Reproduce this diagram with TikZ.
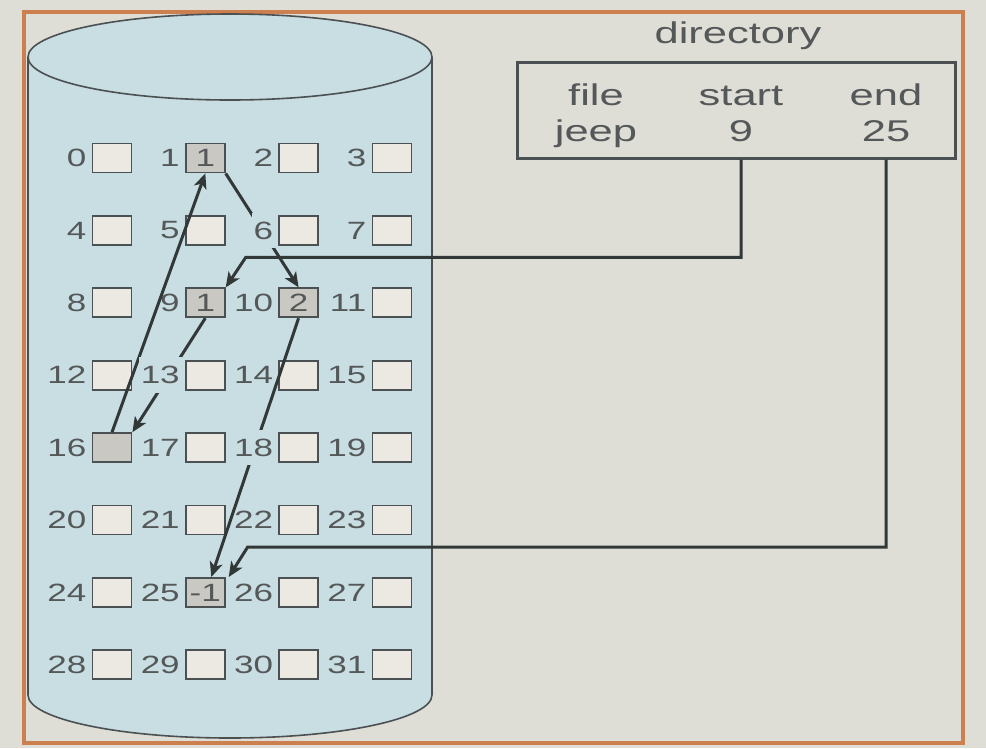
\documentclass[tikz,border=0pt]{standalone}
\usepackage{fontspec}
\setmainfont{Liberation Sans}
\usepackage{graphicx}
\usetikzlibrary{arrows.meta,calc}
\definecolor{bg}{RGB}{222,222,215}
\definecolor{frameor}{RGB}{204,128,80}
\definecolor{cyl}{RGB}{200,222,226}
\definecolor{cylline}{RGB}{75,80,82}
\definecolor{boxfill}{RGB}{236,233,226}
\definecolor{usedfill}{RGB}{202,200,194}
\definecolor{txt}{RGB}{85,88,88}
\definecolor{arr}{RGB}{50,55,55}
\newcommand\hs[1]{\scalebox{1.4}[1]{#1}}
\newcommand\hsd[1]{\scalebox{1.45}[1]{#1}}
\begin{document}
\begin{tikzpicture}[x=1pt,y=-1pt,
  blk/.style={draw=cylline, line width=1.8pt, fill=boxfill, minimum width=39pt, minimum height=29pt, inner sep=0pt, font=\fontsize{25}{28}\selectfont, text=txt},
  used/.style={blk, fill=usedfill},
  num/.style={anchor=east, inner sep=0pt, font=\fontsize{25}{28}\selectfont, text=txt},
  gapnum/.style={num, fill=cyl, inner ysep=9pt, inner xsep=2pt},
  link/.style={draw=arr, line width=3pt, -{Stealth[length=15pt,width=13pt,inset=4pt]}},
  dirtxt/.style={anchor=base, inner sep=0pt, font=\fontsize{30}{34}\selectfont, text=txt}
]
\useasboundingbox (0,0) rectangle (986,748);
\fill[bg] (0,0) rectangle (986,748);
% frame
\draw[frameor, line width=4pt] (24,12) rectangle (963,743);
% cylinder
\fill[cyl] (28,57) -- (28,695) .. controls (28,718.7) and (118.4,738) .. (230,738)
  .. controls (341.6,738) and (432,718.7) .. (432,695) -- (432,57) -- cycle;
\draw[cylline, line width=1.6pt] (28,57) -- (28,695) .. controls (28,718.7) and (118.4,738) .. (230,738)
  .. controls (341.6,738) and (432,718.7) .. (432,695) -- (432,57);
\draw[cylline, line width=1.6pt, fill=cyl] (230,57) ellipse [x radius=202, y radius=43];
% blocks
\foreach \n in {0,2,3,4,5,6,7,8,11,12,13,14,15,17,18,19,20,21,22,23,24,26,27,28,29,30,31} {
  \pgfmathtruncatemacro\r{int(\n/4)}
  \pgfmathtruncatemacro\c{mod(\n,4)}
  \node[blk] (b\n) at ({112+93.3*\c},{158+72.4*\r}) {};
}
\node[used] (b1) at ({112+93.3*1},{158+72.4*0}) {\hs{1}};
\node[used] (b9) at ({112+93.3*1},{158+72.4*2}) {\hs{1}};
\node[used] (b10) at ({112+93.3*2},{158+72.4*2}) {\hs{2}};
\node[used] (b16) at ({112+93.3*0},{158+72.4*4}) {};
\node[used] (b25) at ({112+93.3*1},{158+72.4*6}) {\hs{-1}};
% labels
\foreach \n in {0,1,2,3,4,5,7,8,9,10,11,12,14,15,16,17,19,20,21,22,23,24,25,26,27,28,29,30,31} {
  \node[num] (l\n) at ($(b\n.west)+(-5,0)$) {\hs{\n}};
}
% directory
\node[dirtxt] (dtitle) at (738,43) {\hsd{directory}};
\node[draw=cylline, line width=3pt, minimum width=438pt, minimum height=96pt, inner sep=0pt] (dir) at (736,110) {};
\node[dirtxt] (hfile) at (596,105) {\hsd{file}};
\node[dirtxt] (hstart) at (741,105) {\hsd{start}};
\node[dirtxt] (hend) at (886,105) {\hsd{end}};
\node[dirtxt] (djeep) at (596,141) {\hsd{jeep}};
\node[dirtxt] (d9) at (741,141) {\hsd{9}};
\node[dirtxt] (d25) at (886,141) {\hsd{25}};
% connectors
\coordinate (k9) at ($(b9.north east)+(20,-30)$);
\coordinate (k25) at ($(b25.north east)+(22,-30)$);
\draw[link] (d9 |- dir.south) |- (k9) -- (b9.north east);
\draw[link] (d25 |- dir.south) |- (k25) -- ($(b25.north east)+(3,0)$);
\draw[link] (b9.south) -- (b16.north east);
\draw[link] (b16.north) -- (b1.south);
\draw[link] (b1.south east) -- (b10.north);
\draw[link] (b10.south) -- ($(b25.north)+(6,0)$);
% labels that interrupt lines
\node[gapnum] (l6) at ($(b6.west)+(-3,0)$) {\hs{6}};
\node[gapnum] (l13) at ($(b13.west)+(-3,0)$) {\hs{13}};
\node[gapnum] (l18) at ($(b18.west)+(-3,0)$) {\hs{18}};
\end{tikzpicture}
\end{document}
